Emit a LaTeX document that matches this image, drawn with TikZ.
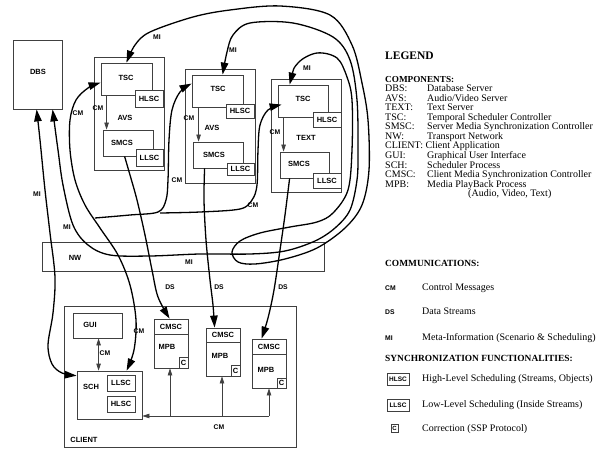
\documentclass[tikz,border=0pt]{standalone}
\usepackage{fontspec}
\setmainfont{Liberation Serif}
\newfontfamily\labfont{Liberation Sans}
\usetikzlibrary{arrows.meta,fit,calc}
\tikzset{
  bt/.tip={Triangle[length=12pt,width=7.5pt]},
  st/.tip={Triangle[length=7pt,width=4.5pt]},
  bx/.style={draw=black!75,line width=0.8pt,inner sep=0pt,fill=white},
  lab/.style={font=\labfont\bfseries\fontsize{7.5}{8}\selectfont,inner sep=0pt},
  sml/.style={font=\labfont\bfseries\fontsize{6.8}{7}\selectfont,inner sep=0pt},
  curve/.style={line width=1.3pt},
  thinln/.style={draw=black!75,line width=0.8pt},
  leg/.style={font=\fontsize{10}{9.6}\selectfont,inner sep=0pt,anchor=base west},
  legh/.style={font=\bfseries\fontsize{9.4}{10}\selectfont,inner sep=0pt,anchor=base west},
}
\begin{document}
\begin{tikzpicture}[x=1pt,y=-1pt]
\useasboundingbox (0,0) rectangle (614,452);
% ---------- boxes ----------
\node[bx,fit={(13,40)(62,109)}] (dbs) {};
\node[lab] (dbsl) at (38,72) {DBS};
% AVS 1
\node[bx,fit={(94,57)(164,170)}] (avs1) {};
\node[bx,fit={(101,63)(152,95)}] (tsc1) {};
\node[bx,fit={(135,90)(163,107)}] (hlsc1) {};
\node[bx,fit={(103,130)(153,156)}] (smcs1) {};
\node[bx,fit={(136,149)(163,166)}] (llsc1) {};
\node[lab] (tsc1l) at (126,78) {TSC};
\node[lab] (hlsc1l) at (hlsc1) {HLSC};
\node[lab] (smcs1l) at (122,143) {SMCS};
\node[lab] (llsc1l) at (llsc1) {LLSC};
\node[lab] (avs1l) at (125,118) {AVS};
% AVS 2
\node[bx,fit={(185,69)(255,183)}] (avs2) {};
\node[bx,fit={(192,75)(243,107)}] (tsc2) {};
\node[bx,fit={(226,104)(254,118)}] (hlsc2) {};
\node[bx,fit={(193,142)(243,168)}] (smcs2) {};
\node[bx,fit={(227,163)(254,175)}] (llsc2) {};
\node[lab] (tsc2l) at (218,89) {TSC};
\node[lab] (hlsc2l) at (hlsc2) {HLSC};
\node[lab] (smcs2l) at (214,155) {SMCS};
\node[lab] (llsc2l) at (llsc2) {LLSC};
\node[lab] (avs2l) at (212,128) {AVS};
% TEXT
\node[bx,fit={(271,79)(341,192)}] (text) {};
\node[bx,fit={(278,85)(328,117)}] (tsc3) {};
\node[bx,fit={(313,112)(341,127)}] (hlsc3) {};
\node[bx,fit={(280,152)(329,178)}] (smcs3) {};
\node[bx,fit={(313,173)(341,188)}] (llsc3) {};
\node[lab] (tsc3l) at (303,99) {TSC};
\node[lab] (hlsc3l) at (hlsc3) {HLSC};
\node[lab] (smcs3l) at (299,164) {SMCS};
\node[lab] (llsc3l) at (llsc3) {LLSC};
\node[lab] (textl) at (306,138) {TEXT};
% NW
\node[bx,fit={(42,242)(324,271)}] (nw) {};
\node[lab] (nwl) at (75,258) {NW};
% CLIENT
\node[bx,fit={(64,306)(296,447)}] (client) {};
\node[lab] (clientl) at (84,440) {CLIENT};
\node[bx,fit={(73,313)(122,338)}] (gui) {};
\node[lab] (guil) at (90,325) {GUI};
\node[bx,fit={(77,371)(142,419)}] (sch) {};
\node[lab] (schl) at (91,387) {SCH};
\node[bx,fit={(107,375)(135,391)}] (schll) {};
\node[lab] (schlll) at (schll) {LLSC};
\node[bx,fit={(107,396)(135,412)}] (schhl) {};
\node[lab] (schhll) at (schhl) {HLSC};
% MPB boxes
\node[bx,fit={(154,319)(188,368)}] (mpb1) {};
\draw[thinln] (154,334) -- (188,334);
\node[lab] (cmsc1l) at (171,326.5) {CMSC};
\node[lab] (mpb1l) at (167,347) {MPB};
\node[bx,fit={(179,357)(188,368)}] (c1) {};
\node[lab] (c1l) at (c1) {C};
\node[bx,fit={(206,328)(240,376)}] (mpb2) {};
\draw[thinln] (206,342) -- (240,342);
\node[lab] (cmsc2l) at (223,335) {CMSC};
\node[lab] (mpb2l) at (220,356) {MPB};
\node[bx,fit={(231,365)(240,376)}] (c2) {};
\node[lab] (c2l) at (c2) {C};
\node[bx,fit={(252,339)(286,388)}] (mpb3) {};
\draw[thinln] (252,354) -- (286,354);
\node[lab] (cmsc3l) at (269,346.5) {CMSC};
\node[lab] (mpb3l) at (266,370) {MPB};
\node[bx,fit={(277,378)(286,388)}] (c3) {};
\node[lab] (c3l) at (c3) {C};
% ---------- internal arrows ----------
\draw[thinln,-st] ([xshift=6pt]tsc1.south west) -- ([xshift=4pt]smcs1.north west);
\node[sml] (cmi1) at (98,108) {CM};
\draw[thinln,-st] ([xshift=7pt]tsc2.south west) -- ([xshift=6pt]smcs2.north west);
\node[sml] (cmi2) at (189,118) {CM};
\draw[thinln,-st] ([xshift=6pt]tsc3.south west) -- ([xshift=4pt]smcs3.north west);
\node[sml] (cmi3) at (275,132) {CM};
\draw[thinln,st-st] ([xshift=26pt]gui.south west) -- ([xshift=22pt]sch.north west);
\node[sml] (cmg) at (105,353) {CM};
% client bus
\coordinate (b1) at (170,416);
\coordinate (b2) at (222,416);
\coordinate (b3) at (269,416);
\draw[thinln,-st] (b3) -- (b3 -| sch.east);
\draw[thinln,-st] (b1) -- (b1 |- mpb1.south);
\draw[thinln,-st] (b2) -- (b2 |- mpb2.south);
\draw[thinln,-st] (b3) -- (b3 |- mpb3.south);
\node[sml] (cmb) at (219,427) {CM};
% ---------- endpoints ----------
\coordinate (e1) at ([xshift=26pt]tsc1.north west);
\coordinate (e2) at ([xshift=31pt]tsc2.north west);
\coordinate (e3) at ([xshift=12pt]tsc3.north west);
\coordinate (d1) at ([xshift=24pt]dbs.south west);
\coordinate (d2) at ([xshift=40pt]dbs.south west);
\coordinate (s1) at ([yshift=-5pt]sch.north west);
\coordinate (s2) at ([xshift=50pt]sch.north west);
\coordinate (t1) at ([yshift=-20pt]tsc1.north west);
\coordinate (t2) at ([yshift=-9pt]tsc2.north west);
\coordinate (t3) at ([xshift=4pt,yshift=-20pt]tsc3.north west);
\coordinate (br) at (95,218);
\coordinate (br2) at (160,213);
% ---------- MI curves ----------
\draw[curve,bt-bt] plot[smooth,tension=0.55] coordinates {(d1) (40,140) (45,190) (50,233) (55,277) (53,313) (48,345) (52,364) (62,373) (s1)};
\node[sml] (mia) at (37,194) {MI};
\draw[curve,bt-bt] plot[smooth,tension=0.55] coordinates {(d2) (58,150) (63,185) (73,225) (88,245) (110,255) (150,256) (200,254) (250,254) (285,251) (315,241) (335,228) (350,210) (357,180) (358,150) (357,100) (350,60) (333,37) (293,23) (250,23) (233,35) (227,52) (e2)};
\node[sml] (mib) at (67,227) {MI};
\node[sml] (minw) at (189,262) {MI};
\node[sml] (mi2) at (233,50) {MI};
\draw[curve,bt-bt] plot[smooth,tension=0.55] coordinates {(e3) (298,63) (317,53) (337,58) (347,77) (352,100) (352,150) (348,190) (333,213) (317,222) (290,227) (260,233) (240,241) (232,252) (238,262) (255,264) (285,259) (317,248) (345,228) (362,205) (369,170) (368,120) (362,83) (352,45) (330,15) (280,6) (230,10) (193,17) (150,32) (135,45) (e1)};
\node[sml] (mi1) at (157,37) {MI};
\node[sml] (mi3) at (307,68) {MI};
% ---------- CM curves ----------
\draw[curve,bt-bt] plot[smooth,tension=0.55] coordinates {(t1) (88,88) (76,100) (70,120) (70,150) (75,180) (85,205) (100,228) (118,255) (130,285) (136,320) (134,350) (s2)};
\node[sml] (cma) at (78,113) {CM};
\node[sml] (cmc) at (139,331) {CM};
\draw[curve,-bt] plot[smooth,tension=0.55] coordinates {(br) (130,215) (158,212) (166,200) (168,180) (169,140) (172,110) (180,92) (t2)};
\node[sml] (cmd) at (177,180) {CM};
\draw[curve,-bt] plot[smooth,tension=0.55] coordinates {(br2) (200,212) (240,209) (252,200) (257,185) (258,150) (260,125) (268,110) (t3)};
\node[sml] (cme) at (253,205) {CM};
% ---------- DS curves ----------
\draw[curve,-bt] plot[smooth,tension=0.55] coordinates {([xshift=22pt]smcs1.south west) (130,175) (137,200) (145,235) (152,270) (158,297) ([xshift=16pt]mpb1.north west)};
\node[sml] (ds1) at (170,287) {DS};
\draw[curve,-bt] plot[smooth,tension=0.55] coordinates {([xshift=12pt]smcs2.south west) (204,200) (206,240) (210,280) (213,305) ([xshift=9pt]mpb2.north west)};
\node[sml] (ds2) at (219,287) {DS};
\draw[curve,-bt] plot[smooth,tension=0.55] coordinates {([xshift=10pt]smcs3.south west) (285,215) (280,250) (274,290) (268,318) ([xshift=10pt]mpb3.north west)};
\node[sml] (ds3) at (283,287) {DS};
% ---------- legend ----------
\node[legh,font=\bfseries\fontsize{11.5}{12}\selectfont] (lg) at (385,59.3) {LEGEND};
\node[legh,font=\bfseries\fontsize{9.2}{10}\selectfont] (lgc) at (385,82.6) {COMPONENTS:};
\node[leg] (n1) at (385,92.0) {DBS:};   \node[leg] (v1) at (427,92.0) {Database Server};
\node[leg] (n2) at (385,101.5) {AVS:};  \node[leg] (v2) at (427,101.5) {Audio/Video Server};
\node[leg] (n3) at (385,111.0) {TEXT:}; \node[leg] (v3) at (427,111.0) {Text Server};
\node[leg] (n4) at (385,120.5) {TSC:};  \node[leg] (v4) at (427,120.5) {Temporal Scheduler Controller};
\node[leg] (n5) at (385,130.0) {SMSC:}; \node[leg] (v5) at (427,130.0) {Server Media Synchronization Controller};
\node[leg] (n6) at (385,139.5) {NW:};   \node[leg] (v6) at (427,139.5) {Transport Network};
\node[leg] (n7) at (385,149.0) {CLIENT:}; \node[leg] (v7) at (425.5,149.0) {Client Application};
\node[leg] (n8) at (385,158.5) {GUI:};  \node[leg] (v8) at (427,158.5) {Graphical User Interface};
\node[leg] (n9) at (385,168.0) {SCH:};  \node[leg] (v9) at (427,168.0) {Scheduler Process};
\node[leg] (n10) at (385,177.5) {CMSC:}; \node[leg] (v10) at (427,177.5) {Client Media Synchronization Controller};
\node[leg] (n11) at (385,187.0) {MPB:};  \node[leg] (v11) at (427,187.0) {Media PlayBack Process};
\node[leg] (v12) at (468,196.5) {(Audio, Video, Text)};
\node[legh] (lgm) at (385,266) {COMMUNICATIONS:};
\node[sml,anchor=base west] (lcm) at (385,290) {CM}; \node[leg] (lcmv) at (422,290) {Control Messages};
\node[sml,anchor=base west] (lds) at (385,314) {DS}; \node[leg] (ldsv) at (422,314) {Data Streams};
\node[sml,anchor=base west] (lmi) at (385,340) {MI}; \node[leg] (lmiv) at (422,340) {Meta-Information (Scenario \& Scheduling)};
\node[legh] (lgs) at (385,361.7) {SYNCHRONIZATION FUNCTIONALITIES:};
\node[bx,fit={(387,373)(409,385)}] (lh) {};
\node[sml,font=\labfont\bfseries\fontsize{6.5}{7}\selectfont] (lhl) at (lh) {HLSC};
\node[leg] (lhv) at (422,381.7) {High-Level Scheduling (Streams, Objects)};
\node[bx,fit={(387,399)(409,411)}] (ll) {};
\node[sml,font=\labfont\bfseries\fontsize{6.5}{7}\selectfont] (lll) at (ll) {LLSC};
\node[leg] (llv) at (422,407.7) {Low-Level Scheduling (Inside Streams)};
\node[bx,fit={(391,424)(398,432)}] (lc) {};
\node[sml,font=\labfont\bfseries\fontsize{6}{7}\selectfont] (lcl) at (lc) {C};
\node[leg] (lcv) at (422,431.7) {Correction (SSP Protocol)};
\end{tikzpicture}
\end{document}
